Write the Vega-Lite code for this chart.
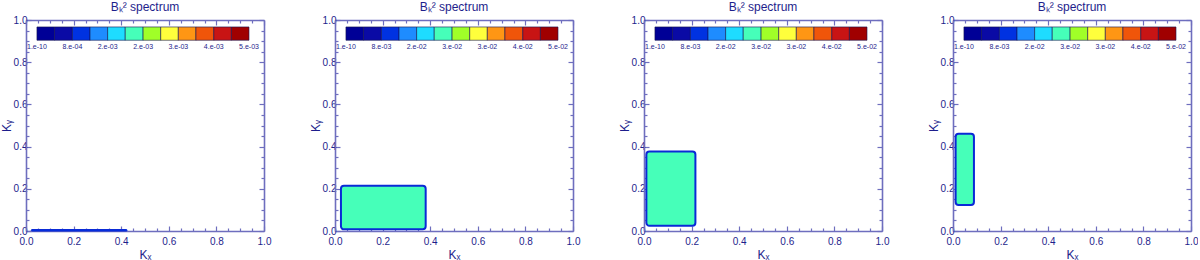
{
  "$schema": "https://vega.github.io/schema/vega-lite/v6.json",
  "padding": {"left": 0, "top": 1, "right": 0, "bottom": 0},
  "datasets": {
    "p1": [{"x0": 0.022, "x1": 0.425, "y0": 0.0, "y1": 0.007, "c": 3}],
    "p2": [{"x0": 0.025, "x1": 0.381, "y0": 0.008, "y1": 0.215, "c": 6}],
    "p3": [{"x0": 0.01, "x1": 0.216, "y0": 0.025, "y1": 0.377, "c": 6}],
    "p4": [{"x0": 0.011, "x1": 0.088, "y0": 0.123, "y1": 0.461, "c": 6}],
    "cb": [
      {"lo": 0.046, "hi": 0.120, "c": 1},
      {"lo": 0.120, "hi": 0.195, "c": 2},
      {"lo": 0.195, "hi": 0.269, "c": 3},
      {"lo": 0.269, "hi": 0.343, "c": 4},
      {"lo": 0.343, "hi": 0.417, "c": 5},
      {"lo": 0.417, "hi": 0.492, "c": 6},
      {"lo": 0.492, "hi": 0.566, "c": 7},
      {"lo": 0.566, "hi": 0.640, "c": 8},
      {"lo": 0.640, "hi": 0.714, "c": 9},
      {"lo": 0.714, "hi": 0.789, "c": 10},
      {"lo": 0.789, "hi": 0.863, "c": 11},
      {"lo": 0.863, "hi": 0.937, "c": 12}
    ],
    "lab1": [
      {"pos": 0.046, "t": "1.e-10"},
      {"pos": 0.195, "t": "8.e-04"},
      {"pos": 0.343, "t": "2.e-03"},
      {"pos": 0.492, "t": "2.e-03"},
      {"pos": 0.640, "t": "3.e-03"},
      {"pos": 0.789, "t": "4.e-03"},
      {"pos": 0.937, "t": "5.e-03"}
    ],
    "lab2": [
      {"pos": 0.046, "t": "1.e-10"},
      {"pos": 0.195, "t": "8.e-03"},
      {"pos": 0.343, "t": "2.e-02"},
      {"pos": 0.492, "t": "3.e-02"},
      {"pos": 0.640, "t": "3.e-02"},
      {"pos": 0.789, "t": "4.e-02"},
      {"pos": 0.937, "t": "5.e-02"}
    ]
  },
  "spacing": 71,
  "bounds": "flush",
  "hconcat": [
    {
      "width": 238, "height": 211,
      "title": {"text": "Bₖ² spectrum"},
      "layer": [
        {"data": {"name": "p1"}, "mark": {"type": "rect", "cornerRadius": 1, "stroke": "#0a2ad6", "strokeWidth": 1},
         "encoding": {
           "x": {"field": "x0", "type": "quantitative", "scale": {"domain": [0, 1], "nice": false, "zero": false},
                 "axis": {"orient": "bottom", "title": "Kₓ", "values": [0,0.05,0.1,0.15,0.2,0.25,0.3,0.35,0.4,0.45,0.5,0.55,0.6,0.65,0.7,0.75,0.8,0.85,0.9,0.95,1], "labelExpr": "round(datum.value*20)%4==0 ? format(datum.value,'.1f') : ''", "tickSize": {"condition": {"test": "round(datum.value*20)%4==0", "value": -5}, "value": -3}, "labelOverlap": false, "labelFlush": false, "labelPadding": 10, "titlePadding": 1}},
           "x2": {"field": "x1"},
           "y": {"field": "y0", "type": "quantitative", "scale": {"domain": [0, 1], "nice": false, "zero": false},
                 "axis": {"orient": "left", "title": "Kᵧ", "values": [0,0.05,0.1,0.15,0.2,0.25,0.3,0.35,0.4,0.45,0.5,0.55,0.6,0.65,0.7,0.75,0.8,0.85,0.9,0.95,1], "labelExpr": "round(datum.value*20)%4==0 ? format(datum.value,'.1f') : ''", "tickSize": {"condition": {"test": "round(datum.value*20)%4==0", "value": -5}, "value": -3}, "labelOverlap": false, "labelFlush": false, "labelPadding": 4, "titlePadding": 0}},
           "y2": {"field": "y1"},
           "color": {"field": "c", "type": "ordinal", "scale": {"domain": [1,2,3,4,5,6,7,8,9,10,11,12], "range": ["#000096","#0a0aa5","#0032e1","#1e8cff","#1edcff","#46ffb9","#a0ff28","#ffff3c","#ff9614","#f0550a","#c81414","#a00000"]}, "legend": null}
         }},
        {"data": {"name": "cb"}, "mark": {"type": "rect", "stroke": "#141450", "strokeWidth": 0.6},
         "encoding": {
           "x": {"field": "lo", "type": "quantitative", "axis": {"orient": "top", "title": null, "labels": false, "values": [0,0.05,0.1,0.15,0.2,0.25,0.3,0.35,0.4,0.45,0.5,0.55,0.6,0.65,0.7,0.75,0.8,0.85,0.9,0.95,1], "tickSize": {"condition": {"test": "round(datum.value*20)%4==0", "value": -5}, "value": -3}}},
           "x2": {"field": "hi"},
           "y": {"datum": 0.904, "type": "quantitative", "axis": {"orient": "right", "title": null, "labels": false, "values": [0,0.05,0.1,0.15,0.2,0.25,0.3,0.35,0.4,0.45,0.5,0.55,0.6,0.65,0.7,0.75,0.8,0.85,0.9,0.95,1], "tickSize": {"condition": {"test": "round(datum.value*20)%4==0", "value": -5}, "value": -3}}},
           "y2": {"datum": 0.967},
           "color": {"field": "c", "type": "ordinal", "legend": null}
         }},
        {"data": {"name": "lab1"}, "mark": {"type": "text", "font": "Liberation Sans", "fontSize": 7, "color": "#1e1e8c", "baseline": "middle"},
         "encoding": {
           "x": {"field": "pos", "type": "quantitative", "axis": null},
           "y": {"datum": 0.872, "type": "quantitative", "axis": null},
           "text": {"field": "t"}
         }}
      ],
      "resolve": {"axis": {"x": "independent", "y": "independent"}}
    },
    {
      "width": 238, "height": 211,
      "title": {"text": "Bₖ² spectrum"},
      "layer": [
        {"data": {"name": "p2"}, "mark": {"type": "rect", "cornerRadius": 3, "stroke": "#0a2ad6", "strokeWidth": 2},
         "encoding": {
           "x": {"field": "x0", "type": "quantitative", "scale": {"domain": [0, 1], "nice": false, "zero": false},
                 "axis": {"orient": "bottom", "title": "Kₓ", "values": [0,0.05,0.1,0.15,0.2,0.25,0.3,0.35,0.4,0.45,0.5,0.55,0.6,0.65,0.7,0.75,0.8,0.85,0.9,0.95,1], "labelExpr": "round(datum.value*20)%4==0 ? format(datum.value,'.1f') : ''", "tickSize": {"condition": {"test": "round(datum.value*20)%4==0", "value": -5}, "value": -3}, "labelOverlap": false, "labelFlush": false, "labelPadding": 10, "titlePadding": 1}},
           "x2": {"field": "x1"},
           "y": {"field": "y0", "type": "quantitative", "scale": {"domain": [0, 1], "nice": false, "zero": false},
                 "axis": {"orient": "left", "title": "Kᵧ", "values": [0,0.05,0.1,0.15,0.2,0.25,0.3,0.35,0.4,0.45,0.5,0.55,0.6,0.65,0.7,0.75,0.8,0.85,0.9,0.95,1], "labelExpr": "round(datum.value*20)%4==0 ? format(datum.value,'.1f') : ''", "tickSize": {"condition": {"test": "round(datum.value*20)%4==0", "value": -5}, "value": -3}, "labelOverlap": false, "labelFlush": false, "labelPadding": 4, "titlePadding": 0}},
           "y2": {"field": "y1"},
           "color": {"field": "c", "type": "ordinal", "scale": {"domain": [1,2,3,4,5,6,7,8,9,10,11,12], "range": ["#000096","#0a0aa5","#0032e1","#1e8cff","#1edcff","#46ffb9","#a0ff28","#ffff3c","#ff9614","#f0550a","#c81414","#a00000"]}, "legend": null}
         }},
        {"data": {"name": "cb"}, "mark": {"type": "rect", "stroke": "#141450", "strokeWidth": 0.6},
         "encoding": {
           "x": {"field": "lo", "type": "quantitative", "axis": {"orient": "top", "title": null, "labels": false, "values": [0,0.05,0.1,0.15,0.2,0.25,0.3,0.35,0.4,0.45,0.5,0.55,0.6,0.65,0.7,0.75,0.8,0.85,0.9,0.95,1], "tickSize": {"condition": {"test": "round(datum.value*20)%4==0", "value": -5}, "value": -3}}},
           "x2": {"field": "hi"},
           "y": {"datum": 0.904, "type": "quantitative", "axis": {"orient": "right", "title": null, "labels": false, "values": [0,0.05,0.1,0.15,0.2,0.25,0.3,0.35,0.4,0.45,0.5,0.55,0.6,0.65,0.7,0.75,0.8,0.85,0.9,0.95,1], "tickSize": {"condition": {"test": "round(datum.value*20)%4==0", "value": -5}, "value": -3}}},
           "y2": {"datum": 0.967},
           "color": {"field": "c", "type": "ordinal", "legend": null}
         }},
        {"data": {"name": "lab2"}, "mark": {"type": "text", "font": "Liberation Sans", "fontSize": 7, "color": "#1e1e8c", "baseline": "middle"},
         "encoding": {
           "x": {"field": "pos", "type": "quantitative", "axis": null},
           "y": {"datum": 0.872, "type": "quantitative", "axis": null},
           "text": {"field": "t"}
         }}
      ],
      "resolve": {"axis": {"x": "independent", "y": "independent"}}
    },
    {
      "width": 238, "height": 211,
      "title": {"text": "Bₖ² spectrum"},
      "layer": [
        {"data": {"name": "p3"}, "mark": {"type": "rect", "cornerRadius": 3, "stroke": "#0a2ad6", "strokeWidth": 2},
         "encoding": {
           "x": {"field": "x0", "type": "quantitative", "scale": {"domain": [0, 1], "nice": false, "zero": false},
                 "axis": {"orient": "bottom", "title": "Kₓ", "values": [0,0.05,0.1,0.15,0.2,0.25,0.3,0.35,0.4,0.45,0.5,0.55,0.6,0.65,0.7,0.75,0.8,0.85,0.9,0.95,1], "labelExpr": "round(datum.value*20)%4==0 ? format(datum.value,'.1f') : ''", "tickSize": {"condition": {"test": "round(datum.value*20)%4==0", "value": -5}, "value": -3}, "labelOverlap": false, "labelFlush": false, "labelPadding": 10, "titlePadding": 1}},
           "x2": {"field": "x1"},
           "y": {"field": "y0", "type": "quantitative", "scale": {"domain": [0, 1], "nice": false, "zero": false},
                 "axis": {"orient": "left", "title": "Kᵧ", "values": [0,0.05,0.1,0.15,0.2,0.25,0.3,0.35,0.4,0.45,0.5,0.55,0.6,0.65,0.7,0.75,0.8,0.85,0.9,0.95,1], "labelExpr": "round(datum.value*20)%4==0 ? format(datum.value,'.1f') : ''", "tickSize": {"condition": {"test": "round(datum.value*20)%4==0", "value": -5}, "value": -3}, "labelOverlap": false, "labelFlush": false, "labelPadding": 4, "titlePadding": 0}},
           "y2": {"field": "y1"},
           "color": {"field": "c", "type": "ordinal", "scale": {"domain": [1,2,3,4,5,6,7,8,9,10,11,12], "range": ["#000096","#0a0aa5","#0032e1","#1e8cff","#1edcff","#46ffb9","#a0ff28","#ffff3c","#ff9614","#f0550a","#c81414","#a00000"]}, "legend": null}
         }},
        {"data": {"name": "cb"}, "mark": {"type": "rect", "stroke": "#141450", "strokeWidth": 0.6},
         "encoding": {
           "x": {"field": "lo", "type": "quantitative", "axis": {"orient": "top", "title": null, "labels": false, "values": [0,0.05,0.1,0.15,0.2,0.25,0.3,0.35,0.4,0.45,0.5,0.55,0.6,0.65,0.7,0.75,0.8,0.85,0.9,0.95,1], "tickSize": {"condition": {"test": "round(datum.value*20)%4==0", "value": -5}, "value": -3}}},
           "x2": {"field": "hi"},
           "y": {"datum": 0.904, "type": "quantitative", "axis": {"orient": "right", "title": null, "labels": false, "values": [0,0.05,0.1,0.15,0.2,0.25,0.3,0.35,0.4,0.45,0.5,0.55,0.6,0.65,0.7,0.75,0.8,0.85,0.9,0.95,1], "tickSize": {"condition": {"test": "round(datum.value*20)%4==0", "value": -5}, "value": -3}}},
           "y2": {"datum": 0.967},
           "color": {"field": "c", "type": "ordinal", "legend": null}
         }},
        {"data": {"name": "lab2"}, "mark": {"type": "text", "font": "Liberation Sans", "fontSize": 7, "color": "#1e1e8c", "baseline": "middle"},
         "encoding": {
           "x": {"field": "pos", "type": "quantitative", "axis": null},
           "y": {"datum": 0.872, "type": "quantitative", "axis": null},
           "text": {"field": "t"}
         }}
      ],
      "resolve": {"axis": {"x": "independent", "y": "independent"}}
    },
    {
      "width": 238, "height": 211,
      "title": {"text": "Bₖ² spectrum"},
      "layer": [
        {"data": {"name": "p4"}, "mark": {"type": "rect", "cornerRadius": 3, "stroke": "#0a2ad6", "strokeWidth": 2},
         "encoding": {
           "x": {"field": "x0", "type": "quantitative", "scale": {"domain": [0, 1], "nice": false, "zero": false},
                 "axis": {"orient": "bottom", "title": "Kₓ", "values": [0,0.05,0.1,0.15,0.2,0.25,0.3,0.35,0.4,0.45,0.5,0.55,0.6,0.65,0.7,0.75,0.8,0.85,0.9,0.95,1], "labelExpr": "round(datum.value*20)%4==0 ? format(datum.value,'.1f') : ''", "tickSize": {"condition": {"test": "round(datum.value*20)%4==0", "value": -5}, "value": -3}, "labelOverlap": false, "labelFlush": false, "labelPadding": 10, "titlePadding": 1}},
           "x2": {"field": "x1"},
           "y": {"field": "y0", "type": "quantitative", "scale": {"domain": [0, 1], "nice": false, "zero": false},
                 "axis": {"orient": "left", "title": "Kᵧ", "values": [0,0.05,0.1,0.15,0.2,0.25,0.3,0.35,0.4,0.45,0.5,0.55,0.6,0.65,0.7,0.75,0.8,0.85,0.9,0.95,1], "labelExpr": "round(datum.value*20)%4==0 ? format(datum.value,'.1f') : ''", "tickSize": {"condition": {"test": "round(datum.value*20)%4==0", "value": -5}, "value": -3}, "labelOverlap": false, "labelFlush": false, "labelPadding": 4, "titlePadding": 0}},
           "y2": {"field": "y1"},
           "color": {"field": "c", "type": "ordinal", "scale": {"domain": [1,2,3,4,5,6,7,8,9,10,11,12], "range": ["#000096","#0a0aa5","#0032e1","#1e8cff","#1edcff","#46ffb9","#a0ff28","#ffff3c","#ff9614","#f0550a","#c81414","#a00000"]}, "legend": null}
         }},
        {"data": {"name": "cb"}, "mark": {"type": "rect", "stroke": "#141450", "strokeWidth": 0.6},
         "encoding": {
           "x": {"field": "lo", "type": "quantitative", "axis": {"orient": "top", "title": null, "labels": false, "values": [0,0.05,0.1,0.15,0.2,0.25,0.3,0.35,0.4,0.45,0.5,0.55,0.6,0.65,0.7,0.75,0.8,0.85,0.9,0.95,1], "tickSize": {"condition": {"test": "round(datum.value*20)%4==0", "value": -5}, "value": -3}}},
           "x2": {"field": "hi"},
           "y": {"datum": 0.904, "type": "quantitative", "axis": {"orient": "right", "title": null, "labels": false, "values": [0,0.05,0.1,0.15,0.2,0.25,0.3,0.35,0.4,0.45,0.5,0.55,0.6,0.65,0.7,0.75,0.8,0.85,0.9,0.95,1], "tickSize": {"condition": {"test": "round(datum.value*20)%4==0", "value": -5}, "value": -3}}},
           "y2": {"datum": 0.967},
           "color": {"field": "c", "type": "ordinal", "legend": null}
         }},
        {"data": {"name": "lab2"}, "mark": {"type": "text", "font": "Liberation Sans", "fontSize": 7, "color": "#1e1e8c", "baseline": "middle"},
         "encoding": {
           "x": {"field": "pos", "type": "quantitative", "axis": null},
           "y": {"datum": 0.872, "type": "quantitative", "axis": null},
           "text": {"field": "t"}
         }}
      ],
      "resolve": {"axis": {"x": "independent", "y": "independent"}}
    }
  ],
  "config": {
    "view": {"stroke": null},
    "axis": {"domainColor": "#6e6ebe", "domainWidth": 1.6, "tickColor": "#6e6ebe", "tickWidth": 1.2, "grid": false, "labelColor": "#1e1e8c", "labelFont": "Liberation Sans", "labelFontSize": 10, "titleColor": "#1e1e8c", "titleFont": "Liberation Sans", "titleFontSize": 12, "titleFontWeight": "normal"},
    "title": {"font": "Liberation Sans", "fontSize": 12, "fontWeight": "normal", "color": "#1e1e8c", "offset": 1}
  }
}
